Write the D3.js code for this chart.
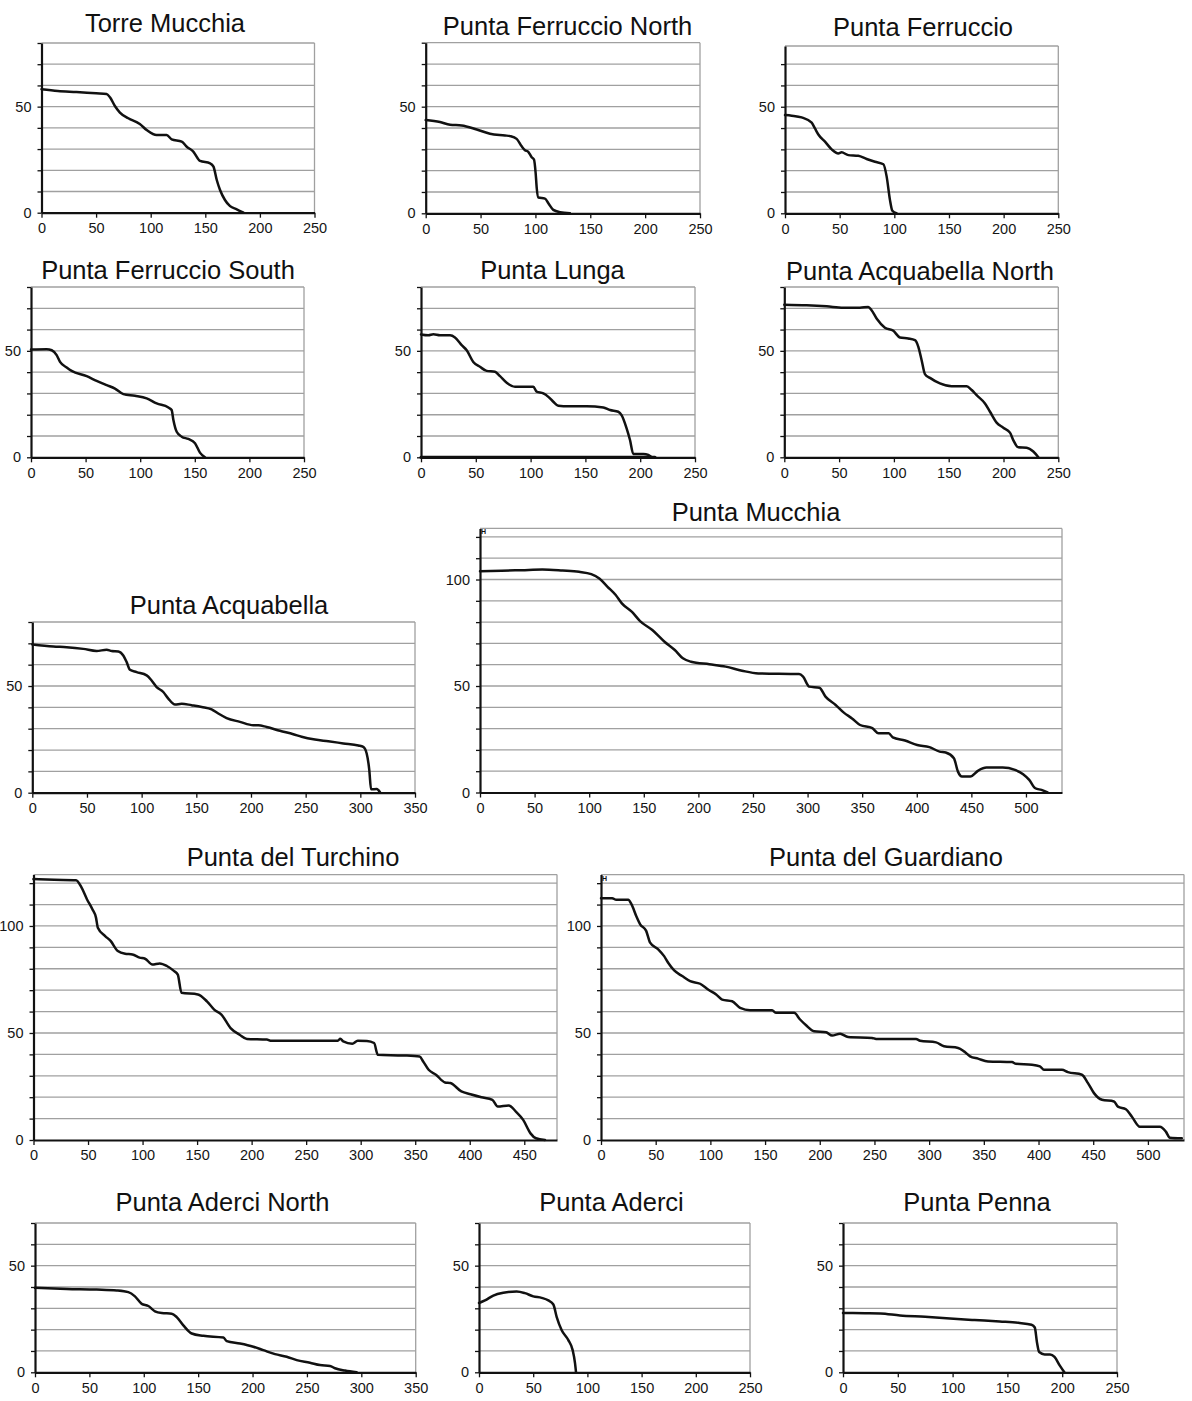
<!DOCTYPE html>
<html>
<head>
<meta charset="utf-8">
<script src="https://cdn.jsdelivr.net/npm/d3@7"></script>
<style>
body{margin:0;background:#fff;}
svg{display:block;font-family:"Liberation Sans",Arial,sans-serif;}
.grid line{stroke:#a0a0a0;stroke-width:1.3;}
.frame{stroke:#a0a0a0;stroke-width:1.3;}
.axis path,.axis line{stroke:#111;}
.axis path{stroke-width:2.2;}
.axis line{stroke-width:1.3;}
.profile{fill:none;stroke:#111;stroke-width:2.5;stroke-linejoin:round;stroke-linecap:round;}
.title{font-size:25.5px;fill:#111;text-anchor:middle;}
.mark{font-size:7px;font-weight:bold;fill:#111;}
</style>
</head>
<body>
<svg class="chart" width="1192" height="1401"></svg>
<script>
// cross-shore profiles: [distance, height]
var torreMucchia = [[0,58.2],[15,57.4],[32,56.9],[50,56.3],[59.6,56],[62.7,54.4],[67.2,50.3],[71.8,47.2],[79.5,44.5],[90,41.8],[96.3,39],[105.4,36.6],[114.6,36.6],[119.2,34.6],[128.4,33.5],[133,31.1],[139,28.8],[145.2,24.4],[154.4,23.3],[157.5,21.7],[160.5,15.4],[163.5,10.7],[168,6],[172.7,3.1],[178.8,1.6],[185,0]];
var puntaFerruccioNorth = [[0,43.7],[13,42.8],[22.2,41.5],[32.8,41.2],[46.5,39.3],[58.6,37.3],[72.3,36.5],[76.9,36.2],[82.9,34.9],[87.5,31.4],[90.5,29.6],[93.5,28.8],[96.6,26.3],[98.7,25.2],[100.2,18.9],[101.2,11.8],[102.7,7.4],[108.7,6.9],[111.8,4.7],[116.3,1.6],[122.4,0.5],[131.5,0]];
var puntaFerruccio = [[0,46.1],[6.1,45.8],[15.2,45],[24.4,42.5],[27.4,39.8],[30.5,37],[36.6,33.6],[42.7,30],[48.8,28.1],[51.8,28.6],[57.9,27.3],[67,27],[74.7,25.5],[82.3,24.2],[90,23],[93,17.2],[96,6.3],[98.2,1.2],[102,0]];
var puntaFerruccioSouth = [[0,50.6],[14.3,50.8],[19,50.3],[23.5,48],[26.6,44.8],[32.7,42.2],[37.2,40.6],[51,38.1],[60.1,35.9],[69.3,33.9],[76.9,32.3],[84.6,29.7],[95.2,28.9],[105.9,27.7],[115.1,25.3],[125.8,23.4],[128.8,22.2],[130.4,17.5],[133.4,12],[138,9.7],[144,8.6],[150.2,6.6],[154.7,2.2],[159.3,0]];
var puntaLunga = [[0,57.7],[6.7,57.3],[11.3,57.8],[17.3,57.3],[26.5,57.3],[31,56.3],[37.1,52.7],[41.7,50.3],[47.7,44.8],[53.8,42.5],[59.9,40.6],[67.5,40.2],[72.1,38.1],[78.2,35],[85.8,33.1],[102.5,33.1],[105.5,30.8],[111.6,30],[116.2,28.4],[120.7,26.1],[125.3,24.2],[129.9,24],[151.2,24],[166.4,23.4],[172.5,22.2],[180,21.4],[183,19.8],[187.6,13.6],[190.7,8.1],[193.7,1.6],[202.9,1.6],[207.4,1.1],[210.5,0]];
var puntaLungaBase = [[0,0],[213.5,0]];
var puntaAcquabellaNorth = [[0,71.7],[20.4,71.4],[38.6,70.9],[53.8,70.3],[69,70.3],[76.6,70.6],[79.6,69.1],[84.2,65.2],[91.8,60.9],[99.5,59.4],[105.5,56.3],[113.1,55.8],[119.2,55],[122.3,51.9],[125.3,45.6],[128.3,39.1],[132.9,37.3],[142,34.7],[152.7,33.4],[166.4,33.4],[171,31.6],[175.5,29.2],[183.1,25.3],[187.7,21.4],[193.7,16.3],[199.8,13.9],[205.9,11.6],[208.9,8.1],[213.5,4.7],[221.1,4.5],[227.2,2.7],[231.8,0]];
var puntaAcquabella = [[0,69.5],[19.2,68.5],[31.4,68.2],[46.6,67.4],[58.8,66.4],[68,67],[72.6,66.4],[78.7,66.2],[83.2,64.3],[86.3,61.2],[89.3,57.6],[95.4,56.5],[104.6,55],[109.1,52.6],[113.7,49.5],[119.8,47.2],[124.4,44.1],[130.5,41.3],[136.6,41.7],[145.7,41],[154.9,40.2],[164,39.1],[170.1,37.1],[177.7,35],[189.9,33.2],[202.1,31.6],[206.7,31.6],[214.3,30.8],[226.5,29],[238.7,27.4],[246.3,26.2],[258.5,24.9],[270.7,24.1],[284.5,23.1],[298.2,22.1],[302.7,21.5],[305.8,18.4],[308.2,10.6],[309.8,1.6],[315,1.7],[318,0.2]];
var puntaMucchia = [[0,103.9],[19.8,104.1],[38.4,104.4],[57.1,104.7],[75.7,104.2],[90.7,103.6],[101.9,102.5],[109.3,100.5],[116.8,96.6],[124.3,92.7],[129.9,88.8],[139.2,84.8],[146.6,80.5],[157.8,76.3],[169,70.8],[178.4,66.9],[185.8,63],[193.3,61.4],[210.1,60.2],[225,59.1],[239.9,57.2],[254.9,55.9],[292.2,55.6],[295.9,54.4],[301.5,49.7],[310.8,49.2],[316.4,45],[325.7,41.1],[333.2,37.5],[340.7,34.8],[348.1,31.7],[359.3,30.2],[364.9,27.8],[374.3,27.8],[378,25.9],[389.2,24.4],[400.4,22.3],[411.6,21.3],[420.9,19.2],[426.5,18.8],[434,16.1],[437.7,9.8],[441.4,7.5],[448.9,7.5],[456.3,10.3],[463.8,11.7],[478.7,11.7],[489.9,10.6],[497.4,8.6],[503,5.9],[508.6,2],[514.2,1.2],[519.8,0]];
var puntaDelTurchino = [[0,121.9],[19,121.6],[39,121.4],[44,118],[49,112.5],[54,107.8],[57.3,103.9],[59,99.2],[65.7,95.3],[70.7,93],[77.3,88.3],[84,87],[90.7,86.7],[97.3,85.2],[102.3,84.7],[109,82],[115.7,82.5],[122.3,81.3],[129,78.9],[132.3,77.3],[135.7,68.8],[150.7,68],[159,64.8],[165.7,60.9],[172.3,58.6],[180.7,52.3],[189,49.2],[195.7,47.2],[214,46.9],[217.3,46.4],[279,46.4],[281.3,47.3],[284,46.1],[292.3,45],[297.3,46.4],[305.7,46.3],[312.3,45.3],[315.7,39.8],[339,39.5],[354,39],[357.3,36.7],[362.3,32.8],[369,30.5],[377.3,26.9],[382.3,26.6],[392.3,22.7],[400.7,21.4],[410.7,20],[420.7,18.8],[425.7,15.6],[435.7,16.1],[442.3,13.3],[449,9.4],[455.7,3.1],[460.7,0.8],[469,0]];
var puntaDelGuardiano = [[0,113],[10.2,113],[13.9,112.2],[24.9,112.2],[27.8,110.2],[32.2,104.7],[35.8,100.8],[41.3,97.7],[44.9,92.2],[52.3,89.1],[57.7,85.9],[61.4,82.8],[66.9,79.2],[74.2,76.6],[81.5,74.2],[90.6,73],[97.9,70.3],[105.3,68],[110.8,65.6],[119.9,64.8],[127.2,61.7],[136.3,60.6],[156.4,60.6],[160.1,59.4],[176.5,59.4],[182,56.3],[187.5,53.6],[194.8,50.8],[205.8,50.3],[211.3,48.8],[218.6,49.7],[225.9,48.1],[247.8,47.7],[251.5,47.2],[288,47.2],[291.7,46.4],[306.3,45.6],[313.6,43.8],[326.5,43],[331.9,41.4],[337.4,39.1],[344.7,38],[353.8,36.7],[375.7,36.4],[379.4,35.6],[394,35.2],[401.3,34.4],[405,32.8],[421.4,32.8],[426.9,31.7],[439.7,30.5],[445.2,26.6],[450.7,21.9],[458,18.8],[469,18],[472.6,15.6],[479.9,14.4],[485.4,10.9],[492.7,6.2],[511,6.2],[516.4,3.9],[520.1,1.1],[531,0.8]];
var puntaAderciNorth = [[0,39.6],[29.1,39.1],[56.7,38.8],[75.1,38.4],[85.8,37.6],[91.9,35.6],[98.1,32.1],[104.2,31.1],[110.3,28.6],[116.5,27.8],[125.7,27.5],[130.3,25.9],[136.4,22],[144.1,18.2],[154.8,17.1],[173.2,16.3],[176.3,14.6],[188.5,13.5],[200.7,12],[209.9,10.4],[220.7,8.5],[231.4,7.3],[240.6,5.7],[252.8,4.5],[262,3.4],[271.2,3],[275.8,1.9],[285,0.8],[295.7,0]];
var puntaAderci = [[0,32.5],[5.5,33.7],[13.2,36],[22.4,37.3],[34.7,37.9],[42.4,37.1],[50.1,35.6],[57.8,34.9],[64,33.7],[68.6,31.8],[71.7,25.9],[76.3,19.7],[82.4,15.1],[86.4,10.4],[88.6,4.2],[89.5,0]];
var puntaPenna = [[0,27.8],[20,27.7],[34,27.6],[52,26.6],[75,26],[97.6,25.2],[120,24.5],[143,23.8],[160,23.2],[172,22.3],[175,21],[177,14],[179,9.5],[184,8.4],[189,8.4],[193,7.2],[198,3],[202,0]];

var titles = ["Torre Mucchia","Punta Ferruccio North","Punta Ferruccio","Punta Ferruccio South","Punta Lunga","Punta Acquabella North","Punta Acquabella","Punta Mucchia","Punta del Turchino","Punta del Guardiano","Punta Aderci North","Punta Aderci","Punta Penna"];
var profiles = [torreMucchia,puntaFerruccioNorth,puntaFerruccio,puntaFerruccioSouth,puntaLunga,puntaAcquabellaNorth,puntaAcquabella,puntaMucchia,puntaDelTurchino,puntaDelGuardiano,puntaAderciNorth,puntaAderci,puntaPenna];
var extraLines = {4: puntaLungaBase};
var xMaxes = [250,250,250,250,250,250,350,533,480,533,350,250,250];
var yMaxes = [80,80,78.5,80,80,80,80,124,124,124,70,70,70];
var xTickStep = 50;
var yTickStep = 10;
var yLabelStep = 50;
var markedPanels = [7,9];

// pixel placement of each panel: y-axis x, x-max x, baseline y, top y, title centre, title baseline
var layout = [
  {left:41.5, right:314.5, bottom:212.7, top:43, tx:165, ty:32},
  {left:425.7, right:700, bottom:213.3, top:42.7, tx:567.5, ty:35},
  {left:785, right:1058.3, bottom:213.3, top:46, tx:923, ty:36},
  {left:31, right:304, bottom:457.3, top:287, tx:168, ty:279},
  {left:421, right:695, bottom:457.3, top:287, tx:552.5, ty:279},
  {left:784.3, right:1058.3, bottom:457.3, top:287, tx:920, ty:280},
  {left:32.3, right:415, bottom:792.7, top:622, tx:229, ty:614},
  {left:480, right:1062, bottom:792.5, top:528.4, tx:756, ty:521},
  {left:33.5, right:557, bottom:1140, top:874.6, tx:293, ty:866},
  {left:601, right:1184, bottom:1140, top:874.6, tx:886, ty:866},
  {left:35, right:415.7, bottom:1372.3, top:1223, tx:222.5, ty:1211},
  {left:479, right:750, bottom:1372.3, top:1223, tx:611.5, ty:1211},
  {left:843, right:1117, bottom:1372.3, top:1223, tx:977, ty:1211}
];

var svg = d3.select('.chart');
svg.append('rect').attr('width',1192).attr('height',1401).attr('fill','#fff');

var styleAxis = function(sel){
  sel.attr('font-size',null).attr('font-family',null);
  sel.selectAll('text')
    .style('font-size','14.5px')
    .style('font-family','"Liberation Sans",Arial,sans-serif')
    .style('fill','#151515');
};

var drawPanel = function(i){
  var p = layout[i];
  var xMax = xMaxes[i], yMax = yMaxes[i];
  var x = d3.scaleLinear().domain([0,xMax]).range([p.left,p.right]);
  var y = d3.scaleLinear().domain([0,yMax]).range([p.bottom,p.top]);
  var g = svg.append('g').attr('class','panel');

  g.append('g').attr('class','grid')
    .selectAll('line')
    .data(d3.range(yTickStep, yMax-1, yTickStep))
    .enter().append('line')
    .attr('x1',x(0)).attr('x2',x(xMax))
    .attr('y1',function(d){return y(d);})
    .attr('y2',function(d){return y(d);});

  g.append('line').attr('class','frame')
    .attr('x1',x(0)).attr('x2',x(xMax)).attr('y1',y(yMax)).attr('y2',y(yMax));
  g.append('line').attr('class','frame')
    .attr('x1',x(xMax)).attr('x2',x(xMax)).attr('y1',y(yMax)).attr('y2',y(0));

  var line = d3.line()
    .curve(d3.curveMonotoneX)
    .x(function(d){return x(d[0]);})
    .y(function(d){return y(d[1]);});

  if (extraLines[i]) {
    g.append('path').attr('class','profile').attr('d',line(extraLines[i])).style('stroke-width',3.2);
  }
  g.append('path').attr('class','profile').attr('d',line(profiles[i]));

  var xTicks = d3.range(0, Math.floor(xMax/xTickStep)*xTickStep+1, xTickStep);
  g.append('g').attr('class','axis')
    .attr('transform','translate(0,'+y(0)+')')
    .call(d3.axisBottom(x).tickValues(xTicks).tickSize(5).tickSizeOuter(0).tickPadding(5))
    .call(styleAxis);

  var yTicks = d3.range(0, yMax+0.01, yTickStep);
  g.append('g').attr('class','axis')
    .attr('transform','translate('+x(0)+',0)')
    .call(d3.axisLeft(y).tickValues(yTicks).tickSize(4).tickSizeOuter(0).tickPadding(6)
      .tickFormat(function(d){return d % yLabelStep === 0 ? d : '';}))
    .call(styleAxis);

  g.append('text').attr('class','title')
    .attr('x',p.tx).attr('y',p.ty)
    .text(titles[i]);

  if (markedPanels.indexOf(i) >= 0) {
    g.append('text').attr('class','mark')
      .attr('x',x(0)+1).attr('y',y(yMax)+6)
      .text('H');
  }
};

var renderCharts = function(){
  for (var i = 0; i < titles.length; i++) {
    drawPanel(i);
  }
};

renderCharts();
</script>
</body>
</html>
